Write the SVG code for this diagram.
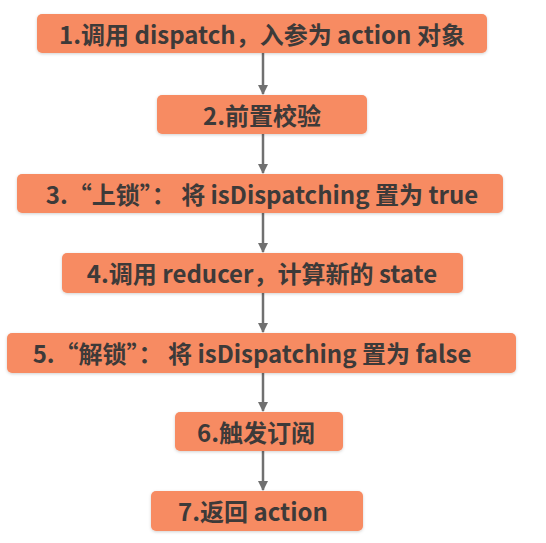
<svg xmlns="http://www.w3.org/2000/svg" width="546" height="543" viewBox="0 0 546 543">
<defs>
<filter id="sh" x="-10%" y="-30%" width="120%" height="160%">
<feDropShadow dx="0" dy="1" stdDeviation="1.5" flood-color="#000" flood-opacity="0.18"/>
</filter>
<marker id="ah" markerWidth="10" markerHeight="10" refX="9" refY="5" orient="auto" markerUnits="userSpaceOnUse">
<path d="M0,0 L10,5 L0,10 z" fill="#707070"/>
</marker>
<style>
.box{fill:#F78B62;filter:url(#sh)}
.t{font-family:"Noto Sans CJK SC","Noto Sans",sans-serif;font-weight:bold;font-size:24px;fill:#3d3a39;text-anchor:middle;dominant-baseline:central}
.c{stroke:#707070;stroke-width:2.5;fill:none;marker-end:url(#ah)}
</style>
</defs>
<rect width="546" height="543" fill="#fff"/>
<g id="connectors">
<line class="c" x1="263" y1="53" x2="263" y2="94"/>
<line class="c" x1="263" y1="134" x2="263" y2="173"/>
<line class="c" x1="263" y1="213" x2="263" y2="252"/>
<line class="c" x1="263" y1="293" x2="263" y2="332"/>
<line class="c" x1="263" y1="373" x2="263" y2="411"/>
<line class="c" x1="263" y1="451" x2="263" y2="490"/>
</g>
<g id="n1"><rect class="box" x="37" y="14" width="450" height="39" rx="5"/><text class="t" x="262" y="33">1.调用 dispatch，入参为 action 对象</text></g>
<g id="n2"><rect class="box" x="157" y="95" width="210" height="39" rx="5"/><text class="t" x="262" y="114">2.前置校验</text></g>
<g id="n3"><rect class="box" x="17" y="174" width="486" height="39" rx="5"/><text class="t" x="262" y="193">3.“上锁”： 将 isDispatching 置为 true</text></g>
<g id="n4"><rect class="box" x="62" y="253" width="401" height="40" rx="5"/><text class="t" x="262" y="272">4.调用 reducer，计算新的 state</text></g>
<g id="n5"><rect class="box" x="7" y="333" width="509" height="40" rx="5"/><text class="t" x="252" y="352">5.“解锁”： 将 isDispatching 置为 false</text></g>
<g id="n6"><rect class="box" x="175" y="412" width="168" height="39" rx="5"/><text class="t" x="256" y="431">6.触发订阅</text></g>
<g id="n7"><rect class="box" x="151" y="491" width="212" height="40" rx="5"/><text class="t" x="253" y="510">7.返回 action</text></g>
</svg>
